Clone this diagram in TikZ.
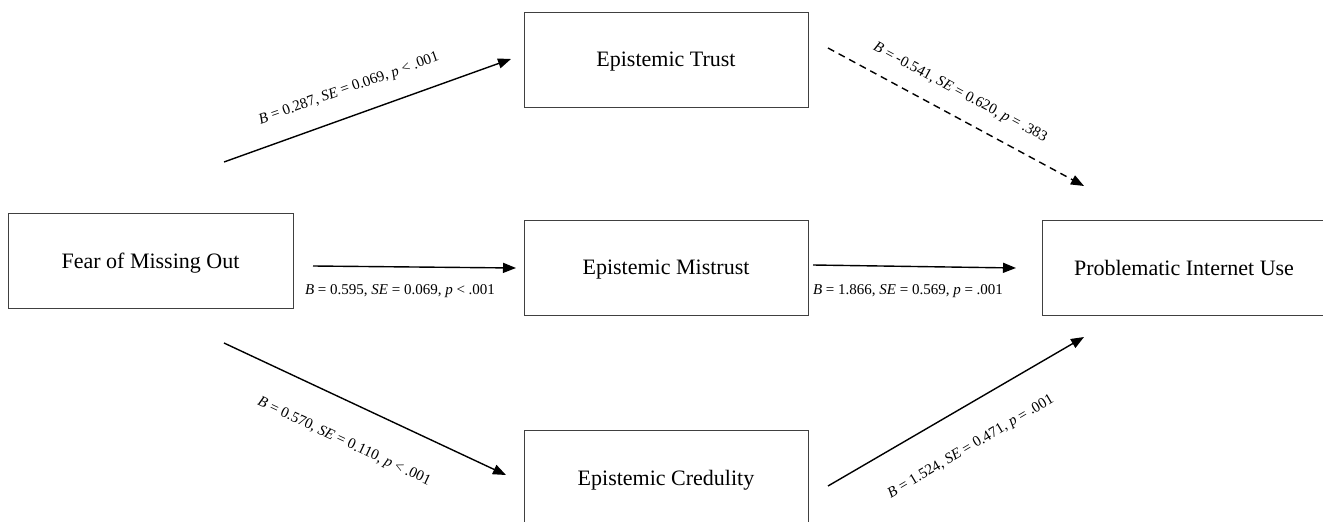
\documentclass[tikz,border=0pt]{standalone}
\usepackage{fontspec}
\setmainfont{Liberation Serif}
\usetikzlibrary{arrows.meta}
\tikzset{
  box/.style={draw=black!75, line width=0.9pt, minimum width=284pt, minimum height=95pt, inner sep=0pt, text depth=0pt, font=\fontsize{22}{26}\selectfont},
  path/.style={line width=1.4pt, -{Triangle[length=13pt,width=10pt]}},
  lbl/.style={font=\fontsize{15}{18}\selectfont, inner sep=0pt}
}
\begin{document}
\begin{tikzpicture}[x=1pt,y=-1pt]
\useasboundingbox (0,0) rectangle (1323,522);
\clip (0,0) rectangle (1323,522);
\fill[white] (0,0) rectangle (1323,522);
% boxes
\node[box, minimum width=285pt] (fomo) at (150.5,260.5) {Fear of Missing Out};
\node[box] (trust) at (666,59.5) {Epistemic Trust};
\node[box] (mistrust) at (666,267.5) {Epistemic Mistrust};
\node[box] (cred) at (666,477.5) {Epistemic Credulity};
\node[box] (piu) at (1184,267.5) {Problematic Internet Use};
% connector end points
\coordinate (a1) at (224,162); \coordinate (b1) at (511,59);
\coordinate (a2) at (828,48);  \coordinate (b2) at (1084,186);
\coordinate (a3) at (313,266); \coordinate (b3) at (516,268);
\coordinate (a4) at (813,265); \coordinate (b4) at (1016,268);
\coordinate (a5) at (224,343); \coordinate (b5) at (506,475);
\coordinate (a6) at (828,486); \coordinate (b6) at (1084,337);
% connectors
\draw[path] (a1) -- (b1);
\draw[path, dash pattern=on 7pt off 5pt] (a2) -- (b2);
\draw[path] (a3) -- (b3);
\draw[path] (a4) -- (b4);
\draw[path] (a5) -- (b5);
\draw[path] (a6) -- (b6);
% labels
\node[lbl, rotate=19.6] (l1) at (349,89) {\textit{B} = 0.287, \textit{SE} = 0.069, \textit{p} < .001};
\node[lbl, rotate=-28.2] (l2) at (960,93) {\textit{B} = -0.541, \textit{SE} = 0.620, \textit{p} = .383};
\node[lbl] (l3) at (400,291) {\textit{B} = 0.595, \textit{SE} = 0.069, \textit{p} < .001};
\node[lbl] (l4) at (908,291) {\textit{B} = 1.866, \textit{SE} = 0.569, \textit{p} = .001};
\node[lbl, rotate=-25.2] (l5) at (344,442) {\textit{B} = 0.570, \textit{SE} = 0.110, \textit{p} < .001};
\node[lbl, rotate=30.6] (l6) at (971,447) {\textit{B} = 1.524, \textit{SE} = 0.471, \textit{p} = .001};
\end{tikzpicture}
\end{document}
